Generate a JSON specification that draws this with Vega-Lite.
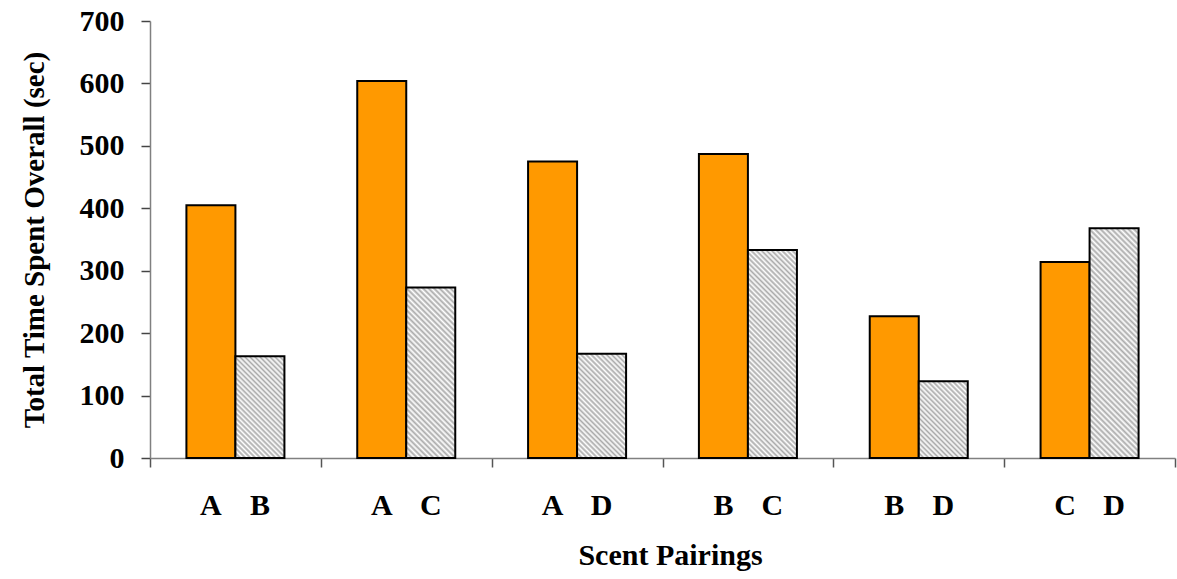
{
  "$schema": "https://vega.github.io/schema/vega-lite/v6.json",
  "width": 1025,
  "height": 437,
  "autosize": {"type": "none"},
  "padding": {"left": 150, "top": 21, "right": 2, "bottom": 121},
  "background": "white",
  "config": {
    "view": {"stroke": null},
    "font": "Liberation Serif",
    "bar": {"stroke": "black", "strokeWidth": 2}
  },
  "data": {
    "values": [
      {"pair": "A-B", "scent": "A", "position": "first", "time": 405},
      {"pair": "A-B", "scent": "B", "position": "second", "time": 163},
      {"pair": "A-C", "scent": "A", "position": "first", "time": 604},
      {"pair": "A-C", "scent": "C", "position": "second", "time": 273},
      {"pair": "A-D", "scent": "A", "position": "first", "time": 475},
      {"pair": "A-D", "scent": "D", "position": "second", "time": 167},
      {"pair": "B-C", "scent": "B", "position": "first", "time": 487},
      {"pair": "B-C", "scent": "C", "position": "second", "time": 333},
      {"pair": "B-D", "scent": "B", "position": "first", "time": 227},
      {"pair": "B-D", "scent": "D", "position": "second", "time": 123},
      {"pair": "C-D", "scent": "C", "position": "first", "time": 314},
      {"pair": "C-D", "scent": "D", "position": "second", "time": 368}
    ]
  },
  "encoding": {
    "x": {
      "field": "pair",
      "type": "nominal",
      "scale": {
        "domain": ["A-B", "A-C", "A-D", "B-C", "B-D", "C-D"],
        "paddingInner": 0,
        "paddingOuter": 0
      },
      "axis": {
        "title": "Scent Pairings",
        "titleFont": "Liberation Serif",
        "titleFontSize": 30,
        "titleFontWeight": "bold",
        "titleColor": "black",
        "titlePadding": 73,
        "titleX": 520,
        "labels": false,
        "tickBand": "extent",
        "tickSize": 9,
        "tickColor": "#555555",
        "tickWidth": 1.5,
        "domainColor": "#808080",
        "domainWidth": 1.5
      }
    },
    "xOffset": {
      "field": "position",
      "type": "nominal",
      "scale": {"domain": ["first", "second"], "paddingInner": 0, "paddingOuter": 0.743}
    },
    "y": {
      "field": "time",
      "type": "quantitative",
      "scale": {"domain": [0, 700], "nice": false},
      "axis": {
        "title": "Total Time Spent Overall (sec)",
        "titleFont": "Liberation Serif",
        "titleFontSize": 29,
        "titleFontWeight": "bold",
        "titleColor": "black",
        "titlePadding": 30,
        "values": [0, 100, 200, 300, 400, 500, 600, 700],
        "grid": false,
        "labelFont": "Liberation Serif",
        "labelFontSize": 30,
        "labelFontWeight": "bold",
        "labelColor": "black",
        "labelPadding": 17,
        "tickSize": 9,
        "tickColor": "#444444",
        "tickWidth": 1.5,
        "domainColor": "#808080",
        "domainWidth": 1.5
      }
    }
  },
  "layer": [
    {
      "transform": [{"filter": "datum.position === 'first'"}],
      "mark": {"type": "bar", "fill": "#FF9900"}
    },
    {
      "transform": [{"filter": "datum.position === 'second' && datum.pair === 'A-B'"}],
      "mark": {
        "type": "bar",
        "fill": {
          "gradient": "linear", "x1": 0, "y1": 1, "x2": 0.579, "y2": -0.203,
          "stops": [
            {"offset": 0, "color": "#aaa"}, {"offset": 0.0167, "color": "#fff"}, {"offset": 0.0333, "color": "#aaa"}, {"offset": 0.05, "color": "#fff"},
            {"offset": 0.0667, "color": "#aaa"}, {"offset": 0.0833, "color": "#fff"}, {"offset": 0.1, "color": "#aaa"}, {"offset": 0.1167, "color": "#fff"},
            {"offset": 0.1333, "color": "#aaa"}, {"offset": 0.15, "color": "#fff"}, {"offset": 0.1667, "color": "#aaa"}, {"offset": 0.1833, "color": "#fff"},
            {"offset": 0.2, "color": "#aaa"}, {"offset": 0.2167, "color": "#fff"}, {"offset": 0.2333, "color": "#aaa"}, {"offset": 0.25, "color": "#fff"},
            {"offset": 0.2667, "color": "#aaa"}, {"offset": 0.2833, "color": "#fff"}, {"offset": 0.3, "color": "#aaa"}, {"offset": 0.3167, "color": "#fff"},
            {"offset": 0.3333, "color": "#aaa"}, {"offset": 0.35, "color": "#fff"}, {"offset": 0.3667, "color": "#aaa"}, {"offset": 0.3833, "color": "#fff"},
            {"offset": 0.4, "color": "#aaa"}, {"offset": 0.4167, "color": "#fff"}, {"offset": 0.4333, "color": "#aaa"}, {"offset": 0.45, "color": "#fff"},
            {"offset": 0.4667, "color": "#aaa"}, {"offset": 0.4833, "color": "#fff"}, {"offset": 0.5, "color": "#aaa"}, {"offset": 0.5167, "color": "#fff"},
            {"offset": 0.5333, "color": "#aaa"}, {"offset": 0.55, "color": "#fff"}, {"offset": 0.5667, "color": "#aaa"}, {"offset": 0.5833, "color": "#fff"},
            {"offset": 0.6, "color": "#aaa"}, {"offset": 0.6167, "color": "#fff"}, {"offset": 0.6333, "color": "#aaa"}, {"offset": 0.65, "color": "#fff"},
            {"offset": 0.6667, "color": "#aaa"}, {"offset": 0.6833, "color": "#fff"}, {"offset": 0.7, "color": "#aaa"}, {"offset": 0.7167, "color": "#fff"},
            {"offset": 0.7333, "color": "#aaa"}, {"offset": 0.75, "color": "#fff"}, {"offset": 0.7667, "color": "#aaa"}, {"offset": 0.7833, "color": "#fff"},
            {"offset": 0.8, "color": "#aaa"}, {"offset": 0.8167, "color": "#fff"}, {"offset": 0.8333, "color": "#aaa"}, {"offset": 0.85, "color": "#fff"},
            {"offset": 0.8667, "color": "#aaa"}, {"offset": 0.8833, "color": "#fff"}, {"offset": 0.9, "color": "#aaa"}, {"offset": 0.9167, "color": "#fff"},
            {"offset": 0.9333, "color": "#aaa"}, {"offset": 0.95, "color": "#fff"}, {"offset": 0.9667, "color": "#aaa"}, {"offset": 0.9833, "color": "#fff"},
            {"offset": 1, "color": "#aaa"}
          ]
        }
      }
    },
    {
      "transform": [{"filter": "datum.position === 'second' && datum.pair === 'A-C'"}],
      "mark": {
        "type": "bar",
        "fill": {
          "gradient": "linear", "x1": 0, "y1": 1, "x2": 0.342, "y2": -0.189,
          "stops": [
            {"offset": 0, "color": "#aaa"}, {"offset": 0.0125, "color": "#fff"}, {"offset": 0.025, "color": "#aaa"}, {"offset": 0.0375, "color": "#fff"},
            {"offset": 0.05, "color": "#aaa"}, {"offset": 0.0625, "color": "#fff"}, {"offset": 0.075, "color": "#aaa"}, {"offset": 0.0875, "color": "#fff"},
            {"offset": 0.1, "color": "#aaa"}, {"offset": 0.1125, "color": "#fff"}, {"offset": 0.125, "color": "#aaa"}, {"offset": 0.1375, "color": "#fff"},
            {"offset": 0.15, "color": "#aaa"}, {"offset": 0.1625, "color": "#fff"}, {"offset": 0.175, "color": "#aaa"}, {"offset": 0.1875, "color": "#fff"},
            {"offset": 0.2, "color": "#aaa"}, {"offset": 0.2125, "color": "#fff"}, {"offset": 0.225, "color": "#aaa"}, {"offset": 0.2375, "color": "#fff"},
            {"offset": 0.25, "color": "#aaa"}, {"offset": 0.2625, "color": "#fff"}, {"offset": 0.275, "color": "#aaa"}, {"offset": 0.2875, "color": "#fff"},
            {"offset": 0.3, "color": "#aaa"}, {"offset": 0.3125, "color": "#fff"}, {"offset": 0.325, "color": "#aaa"}, {"offset": 0.3375, "color": "#fff"},
            {"offset": 0.35, "color": "#aaa"}, {"offset": 0.3625, "color": "#fff"}, {"offset": 0.375, "color": "#aaa"}, {"offset": 0.3875, "color": "#fff"},
            {"offset": 0.4, "color": "#aaa"}, {"offset": 0.4125, "color": "#fff"}, {"offset": 0.425, "color": "#aaa"}, {"offset": 0.4375, "color": "#fff"},
            {"offset": 0.45, "color": "#aaa"}, {"offset": 0.4625, "color": "#fff"}, {"offset": 0.475, "color": "#aaa"}, {"offset": 0.4875, "color": "#fff"},
            {"offset": 0.5, "color": "#aaa"}, {"offset": 0.5125, "color": "#fff"}, {"offset": 0.525, "color": "#aaa"}, {"offset": 0.5375, "color": "#fff"},
            {"offset": 0.55, "color": "#aaa"}, {"offset": 0.5625, "color": "#fff"}, {"offset": 0.575, "color": "#aaa"}, {"offset": 0.5875, "color": "#fff"},
            {"offset": 0.6, "color": "#aaa"}, {"offset": 0.6125, "color": "#fff"}, {"offset": 0.625, "color": "#aaa"}, {"offset": 0.6375, "color": "#fff"},
            {"offset": 0.65, "color": "#aaa"}, {"offset": 0.6625, "color": "#fff"}, {"offset": 0.675, "color": "#aaa"}, {"offset": 0.6875, "color": "#fff"},
            {"offset": 0.7, "color": "#aaa"}, {"offset": 0.7125, "color": "#fff"}, {"offset": 0.725, "color": "#aaa"}, {"offset": 0.7375, "color": "#fff"},
            {"offset": 0.75, "color": "#aaa"}, {"offset": 0.7625, "color": "#fff"}, {"offset": 0.775, "color": "#aaa"}, {"offset": 0.7875, "color": "#fff"},
            {"offset": 0.8, "color": "#aaa"}, {"offset": 0.8125, "color": "#fff"}, {"offset": 0.825, "color": "#aaa"}, {"offset": 0.8375, "color": "#fff"},
            {"offset": 0.85, "color": "#aaa"}, {"offset": 0.8625, "color": "#fff"}, {"offset": 0.875, "color": "#aaa"}, {"offset": 0.8875, "color": "#fff"},
            {"offset": 0.9, "color": "#aaa"}, {"offset": 0.9125, "color": "#fff"}, {"offset": 0.925, "color": "#aaa"}, {"offset": 0.9375, "color": "#fff"},
            {"offset": 0.95, "color": "#aaa"}, {"offset": 0.9625, "color": "#fff"}, {"offset": 0.975, "color": "#aaa"}, {"offset": 0.9875, "color": "#fff"},
            {"offset": 1, "color": "#aaa"}
          ]
        }
      }
    },
    {
      "transform": [{"filter": "datum.position === 'second' && datum.pair === 'A-D'"}],
      "mark": {
        "type": "bar",
        "fill": {
          "gradient": "linear", "x1": 0, "y1": 1, "x2": 0.566, "y2": -0.204,
          "stops": [
            {"offset": 0, "color": "#aaa"}, {"offset": 0.0167, "color": "#fff"}, {"offset": 0.0333, "color": "#aaa"}, {"offset": 0.05, "color": "#fff"},
            {"offset": 0.0667, "color": "#aaa"}, {"offset": 0.0833, "color": "#fff"}, {"offset": 0.1, "color": "#aaa"}, {"offset": 0.1167, "color": "#fff"},
            {"offset": 0.1333, "color": "#aaa"}, {"offset": 0.15, "color": "#fff"}, {"offset": 0.1667, "color": "#aaa"}, {"offset": 0.1833, "color": "#fff"},
            {"offset": 0.2, "color": "#aaa"}, {"offset": 0.2167, "color": "#fff"}, {"offset": 0.2333, "color": "#aaa"}, {"offset": 0.25, "color": "#fff"},
            {"offset": 0.2667, "color": "#aaa"}, {"offset": 0.2833, "color": "#fff"}, {"offset": 0.3, "color": "#aaa"}, {"offset": 0.3167, "color": "#fff"},
            {"offset": 0.3333, "color": "#aaa"}, {"offset": 0.35, "color": "#fff"}, {"offset": 0.3667, "color": "#aaa"}, {"offset": 0.3833, "color": "#fff"},
            {"offset": 0.4, "color": "#aaa"}, {"offset": 0.4167, "color": "#fff"}, {"offset": 0.4333, "color": "#aaa"}, {"offset": 0.45, "color": "#fff"},
            {"offset": 0.4667, "color": "#aaa"}, {"offset": 0.4833, "color": "#fff"}, {"offset": 0.5, "color": "#aaa"}, {"offset": 0.5167, "color": "#fff"},
            {"offset": 0.5333, "color": "#aaa"}, {"offset": 0.55, "color": "#fff"}, {"offset": 0.5667, "color": "#aaa"}, {"offset": 0.5833, "color": "#fff"},
            {"offset": 0.6, "color": "#aaa"}, {"offset": 0.6167, "color": "#fff"}, {"offset": 0.6333, "color": "#aaa"}, {"offset": 0.65, "color": "#fff"},
            {"offset": 0.6667, "color": "#aaa"}, {"offset": 0.6833, "color": "#fff"}, {"offset": 0.7, "color": "#aaa"}, {"offset": 0.7167, "color": "#fff"},
            {"offset": 0.7333, "color": "#aaa"}, {"offset": 0.75, "color": "#fff"}, {"offset": 0.7667, "color": "#aaa"}, {"offset": 0.7833, "color": "#fff"},
            {"offset": 0.8, "color": "#aaa"}, {"offset": 0.8167, "color": "#fff"}, {"offset": 0.8333, "color": "#aaa"}, {"offset": 0.85, "color": "#fff"},
            {"offset": 0.8667, "color": "#aaa"}, {"offset": 0.8833, "color": "#fff"}, {"offset": 0.9, "color": "#aaa"}, {"offset": 0.9167, "color": "#fff"},
            {"offset": 0.9333, "color": "#aaa"}, {"offset": 0.95, "color": "#fff"}, {"offset": 0.9667, "color": "#aaa"}, {"offset": 0.9833, "color": "#fff"},
            {"offset": 1, "color": "#aaa"}
          ]
        }
      }
    },
    {
      "transform": [{"filter": "datum.position === 'second' && datum.pair === 'B-C'"}],
      "mark": {
        "type": "bar",
        "fill": {
          "gradient": "linear", "x1": 0, "y1": 1, "x2": 0.276, "y2": -0.171,
          "stops": [
            {"offset": 0, "color": "#aaa"}, {"offset": 0.01, "color": "#fff"}, {"offset": 0.02, "color": "#aaa"}, {"offset": 0.03, "color": "#fff"},
            {"offset": 0.04, "color": "#aaa"}, {"offset": 0.05, "color": "#fff"}, {"offset": 0.06, "color": "#aaa"}, {"offset": 0.07, "color": "#fff"},
            {"offset": 0.08, "color": "#aaa"}, {"offset": 0.09, "color": "#fff"}, {"offset": 0.1, "color": "#aaa"}, {"offset": 0.11, "color": "#fff"},
            {"offset": 0.12, "color": "#aaa"}, {"offset": 0.13, "color": "#fff"}, {"offset": 0.14, "color": "#aaa"}, {"offset": 0.15, "color": "#fff"},
            {"offset": 0.16, "color": "#aaa"}, {"offset": 0.17, "color": "#fff"}, {"offset": 0.18, "color": "#aaa"}, {"offset": 0.19, "color": "#fff"},
            {"offset": 0.2, "color": "#aaa"}, {"offset": 0.21, "color": "#fff"}, {"offset": 0.22, "color": "#aaa"}, {"offset": 0.23, "color": "#fff"},
            {"offset": 0.24, "color": "#aaa"}, {"offset": 0.25, "color": "#fff"}, {"offset": 0.26, "color": "#aaa"}, {"offset": 0.27, "color": "#fff"},
            {"offset": 0.28, "color": "#aaa"}, {"offset": 0.29, "color": "#fff"}, {"offset": 0.3, "color": "#aaa"}, {"offset": 0.31, "color": "#fff"},
            {"offset": 0.32, "color": "#aaa"}, {"offset": 0.33, "color": "#fff"}, {"offset": 0.34, "color": "#aaa"}, {"offset": 0.35, "color": "#fff"},
            {"offset": 0.36, "color": "#aaa"}, {"offset": 0.37, "color": "#fff"}, {"offset": 0.38, "color": "#aaa"}, {"offset": 0.39, "color": "#fff"},
            {"offset": 0.4, "color": "#aaa"}, {"offset": 0.41, "color": "#fff"}, {"offset": 0.42, "color": "#aaa"}, {"offset": 0.43, "color": "#fff"},
            {"offset": 0.44, "color": "#aaa"}, {"offset": 0.45, "color": "#fff"}, {"offset": 0.46, "color": "#aaa"}, {"offset": 0.47, "color": "#fff"},
            {"offset": 0.48, "color": "#aaa"}, {"offset": 0.49, "color": "#fff"}, {"offset": 0.5, "color": "#aaa"}, {"offset": 0.51, "color": "#fff"},
            {"offset": 0.52, "color": "#aaa"}, {"offset": 0.53, "color": "#fff"}, {"offset": 0.54, "color": "#aaa"}, {"offset": 0.55, "color": "#fff"},
            {"offset": 0.56, "color": "#aaa"}, {"offset": 0.57, "color": "#fff"}, {"offset": 0.58, "color": "#aaa"}, {"offset": 0.59, "color": "#fff"},
            {"offset": 0.6, "color": "#aaa"}, {"offset": 0.61, "color": "#fff"}, {"offset": 0.62, "color": "#aaa"}, {"offset": 0.63, "color": "#fff"},
            {"offset": 0.64, "color": "#aaa"}, {"offset": 0.65, "color": "#fff"}, {"offset": 0.66, "color": "#aaa"}, {"offset": 0.67, "color": "#fff"},
            {"offset": 0.68, "color": "#aaa"}, {"offset": 0.69, "color": "#fff"}, {"offset": 0.7, "color": "#aaa"}, {"offset": 0.71, "color": "#fff"},
            {"offset": 0.72, "color": "#aaa"}, {"offset": 0.73, "color": "#fff"}, {"offset": 0.74, "color": "#aaa"}, {"offset": 0.75, "color": "#fff"},
            {"offset": 0.76, "color": "#aaa"}, {"offset": 0.77, "color": "#fff"}, {"offset": 0.78, "color": "#aaa"}, {"offset": 0.79, "color": "#fff"},
            {"offset": 0.8, "color": "#aaa"}, {"offset": 0.81, "color": "#fff"}, {"offset": 0.82, "color": "#aaa"}, {"offset": 0.83, "color": "#fff"},
            {"offset": 0.84, "color": "#aaa"}, {"offset": 0.85, "color": "#fff"}, {"offset": 0.86, "color": "#aaa"}, {"offset": 0.87, "color": "#fff"},
            {"offset": 0.88, "color": "#aaa"}, {"offset": 0.89, "color": "#fff"}, {"offset": 0.9, "color": "#aaa"}, {"offset": 0.91, "color": "#fff"},
            {"offset": 0.92, "color": "#aaa"}, {"offset": 0.93, "color": "#fff"}, {"offset": 0.94, "color": "#aaa"}, {"offset": 0.95, "color": "#fff"},
            {"offset": 0.96, "color": "#aaa"}, {"offset": 0.97, "color": "#fff"}, {"offset": 0.98, "color": "#aaa"}, {"offset": 0.99, "color": "#fff"},
            {"offset": 1, "color": "#aaa"}
          ]
        }
      }
    },
    {
      "transform": [{"filter": "datum.position === 'second' && datum.pair === 'B-D'"}],
      "mark": {
        "type": "bar",
        "fill": {
          "gradient": "linear", "x1": 0, "y1": 1, "x2": 0.743, "y2": -0.164,
          "stops": [
            {"offset": 0, "color": "#aaa"}, {"offset": 0.02, "color": "#fff"}, {"offset": 0.04, "color": "#aaa"}, {"offset": 0.06, "color": "#fff"},
            {"offset": 0.08, "color": "#aaa"}, {"offset": 0.1, "color": "#fff"}, {"offset": 0.12, "color": "#aaa"}, {"offset": 0.14, "color": "#fff"},
            {"offset": 0.16, "color": "#aaa"}, {"offset": 0.18, "color": "#fff"}, {"offset": 0.2, "color": "#aaa"}, {"offset": 0.22, "color": "#fff"},
            {"offset": 0.24, "color": "#aaa"}, {"offset": 0.26, "color": "#fff"}, {"offset": 0.28, "color": "#aaa"}, {"offset": 0.3, "color": "#fff"},
            {"offset": 0.32, "color": "#aaa"}, {"offset": 0.34, "color": "#fff"}, {"offset": 0.36, "color": "#aaa"}, {"offset": 0.38, "color": "#fff"},
            {"offset": 0.4, "color": "#aaa"}, {"offset": 0.42, "color": "#fff"}, {"offset": 0.44, "color": "#aaa"}, {"offset": 0.46, "color": "#fff"},
            {"offset": 0.48, "color": "#aaa"}, {"offset": 0.5, "color": "#fff"}, {"offset": 0.52, "color": "#aaa"}, {"offset": 0.54, "color": "#fff"},
            {"offset": 0.56, "color": "#aaa"}, {"offset": 0.58, "color": "#fff"}, {"offset": 0.6, "color": "#aaa"}, {"offset": 0.62, "color": "#fff"},
            {"offset": 0.64, "color": "#aaa"}, {"offset": 0.66, "color": "#fff"}, {"offset": 0.68, "color": "#aaa"}, {"offset": 0.7, "color": "#fff"},
            {"offset": 0.72, "color": "#aaa"}, {"offset": 0.74, "color": "#fff"}, {"offset": 0.76, "color": "#aaa"}, {"offset": 0.78, "color": "#fff"},
            {"offset": 0.8, "color": "#aaa"}, {"offset": 0.82, "color": "#fff"}, {"offset": 0.84, "color": "#aaa"}, {"offset": 0.86, "color": "#fff"},
            {"offset": 0.88, "color": "#aaa"}, {"offset": 0.9, "color": "#fff"}, {"offset": 0.92, "color": "#aaa"}, {"offset": 0.94, "color": "#fff"},
            {"offset": 0.96, "color": "#aaa"}, {"offset": 0.98, "color": "#fff"}, {"offset": 1, "color": "#aaa"}
          ]
        }
      }
    },
    {
      "transform": [{"filter": "datum.position === 'second' && datum.pair === 'C-D'"}],
      "mark": {
        "type": "bar",
        "fill": {
          "gradient": "linear", "x1": 0, "y1": 1, "x2": 0.248, "y2": -0.161,
          "stops": [
            {"offset": 0, "color": "#aaa"}, {"offset": 0.01, "color": "#fff"}, {"offset": 0.02, "color": "#aaa"}, {"offset": 0.03, "color": "#fff"},
            {"offset": 0.04, "color": "#aaa"}, {"offset": 0.05, "color": "#fff"}, {"offset": 0.06, "color": "#aaa"}, {"offset": 0.07, "color": "#fff"},
            {"offset": 0.08, "color": "#aaa"}, {"offset": 0.09, "color": "#fff"}, {"offset": 0.1, "color": "#aaa"}, {"offset": 0.11, "color": "#fff"},
            {"offset": 0.12, "color": "#aaa"}, {"offset": 0.13, "color": "#fff"}, {"offset": 0.14, "color": "#aaa"}, {"offset": 0.15, "color": "#fff"},
            {"offset": 0.16, "color": "#aaa"}, {"offset": 0.17, "color": "#fff"}, {"offset": 0.18, "color": "#aaa"}, {"offset": 0.19, "color": "#fff"},
            {"offset": 0.2, "color": "#aaa"}, {"offset": 0.21, "color": "#fff"}, {"offset": 0.22, "color": "#aaa"}, {"offset": 0.23, "color": "#fff"},
            {"offset": 0.24, "color": "#aaa"}, {"offset": 0.25, "color": "#fff"}, {"offset": 0.26, "color": "#aaa"}, {"offset": 0.27, "color": "#fff"},
            {"offset": 0.28, "color": "#aaa"}, {"offset": 0.29, "color": "#fff"}, {"offset": 0.3, "color": "#aaa"}, {"offset": 0.31, "color": "#fff"},
            {"offset": 0.32, "color": "#aaa"}, {"offset": 0.33, "color": "#fff"}, {"offset": 0.34, "color": "#aaa"}, {"offset": 0.35, "color": "#fff"},
            {"offset": 0.36, "color": "#aaa"}, {"offset": 0.37, "color": "#fff"}, {"offset": 0.38, "color": "#aaa"}, {"offset": 0.39, "color": "#fff"},
            {"offset": 0.4, "color": "#aaa"}, {"offset": 0.41, "color": "#fff"}, {"offset": 0.42, "color": "#aaa"}, {"offset": 0.43, "color": "#fff"},
            {"offset": 0.44, "color": "#aaa"}, {"offset": 0.45, "color": "#fff"}, {"offset": 0.46, "color": "#aaa"}, {"offset": 0.47, "color": "#fff"},
            {"offset": 0.48, "color": "#aaa"}, {"offset": 0.49, "color": "#fff"}, {"offset": 0.5, "color": "#aaa"}, {"offset": 0.51, "color": "#fff"},
            {"offset": 0.52, "color": "#aaa"}, {"offset": 0.53, "color": "#fff"}, {"offset": 0.54, "color": "#aaa"}, {"offset": 0.55, "color": "#fff"},
            {"offset": 0.56, "color": "#aaa"}, {"offset": 0.57, "color": "#fff"}, {"offset": 0.58, "color": "#aaa"}, {"offset": 0.59, "color": "#fff"},
            {"offset": 0.6, "color": "#aaa"}, {"offset": 0.61, "color": "#fff"}, {"offset": 0.62, "color": "#aaa"}, {"offset": 0.63, "color": "#fff"},
            {"offset": 0.64, "color": "#aaa"}, {"offset": 0.65, "color": "#fff"}, {"offset": 0.66, "color": "#aaa"}, {"offset": 0.67, "color": "#fff"},
            {"offset": 0.68, "color": "#aaa"}, {"offset": 0.69, "color": "#fff"}, {"offset": 0.7, "color": "#aaa"}, {"offset": 0.71, "color": "#fff"},
            {"offset": 0.72, "color": "#aaa"}, {"offset": 0.73, "color": "#fff"}, {"offset": 0.74, "color": "#aaa"}, {"offset": 0.75, "color": "#fff"},
            {"offset": 0.76, "color": "#aaa"}, {"offset": 0.77, "color": "#fff"}, {"offset": 0.78, "color": "#aaa"}, {"offset": 0.79, "color": "#fff"},
            {"offset": 0.8, "color": "#aaa"}, {"offset": 0.81, "color": "#fff"}, {"offset": 0.82, "color": "#aaa"}, {"offset": 0.83, "color": "#fff"},
            {"offset": 0.84, "color": "#aaa"}, {"offset": 0.85, "color": "#fff"}, {"offset": 0.86, "color": "#aaa"}, {"offset": 0.87, "color": "#fff"},
            {"offset": 0.88, "color": "#aaa"}, {"offset": 0.89, "color": "#fff"}, {"offset": 0.9, "color": "#aaa"}, {"offset": 0.91, "color": "#fff"},
            {"offset": 0.92, "color": "#aaa"}, {"offset": 0.93, "color": "#fff"}, {"offset": 0.94, "color": "#aaa"}, {"offset": 0.95, "color": "#fff"},
            {"offset": 0.96, "color": "#aaa"}, {"offset": 0.97, "color": "#fff"}, {"offset": 0.98, "color": "#aaa"}, {"offset": 0.99, "color": "#fff"},
            {"offset": 1, "color": "#aaa"}
          ]
        }
      }
    },
    {
      "mark": {
        "type": "text",
        "font": "Liberation Serif",
        "fontSize": 30,
        "fontWeight": "bold",
        "color": "black",
        "baseline": "alphabetic",
        "align": "center",
        "dy": 57
      },
      "encoding": {
        "y": {"datum": 0, "type": "quantitative"},
        "text": {"field": "scent", "type": "nominal"}
      }
    }
  ]
}
